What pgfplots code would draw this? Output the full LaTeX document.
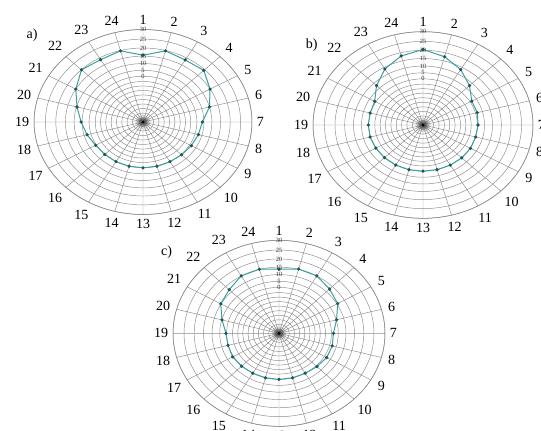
\documentclass[border=0pt]{standalone}
\usepackage{fontspec}
\setmainfont{Liberation Serif}
\usepackage{pgfplots}
\usepackage{pgfplotstable}
\pgfplotsset{compat=1.18}
\usepgfplotslibrary{polar}

\definecolor{lineteal}{RGB}{60,158,158}
\definecolor{markteal}{RGB}{30,85,85}
\definecolor{gridgray}{RGB}{140,140,140}

\pgfplotstableread{
ang val
90 15.6
75 19.8
60 18.6
45 19.4
30 14.9
15 10.0
0 3.9
345 2.5
330 1.4
315 0.5
300 0.0
285 0.0
270 0.0
255 0.0
240 0.0
225 0.0
210 0.6
195 2.9
180 5.6
165 9.7
150 15.0
135 19.9
120 18.8
105 19.8
90 15.6
}\dataA

\pgfplotstableread{
ang val
90 20.5
75 17.6
60 13.4
45 7.7
30 1.4
15 1.3
0 0.4
345 0.0
330 0.3
315 0.3
300 0.1
285 0.0
270 0.0
255 0.0
240 0.0
225 0.0
210 0.0
195 0.2
180 0.2
165 0.2
150 1.0
135 7.7
120 13.9
105 18.1
90 20.5
}\dataB

\pgfplotstableread{
ang val
90 13.7
75 15.2
60 15.1
45 12.7
30 10.5
15 5.2
0 1.5
345 2.0
330 2.0
315 0.9
300 0.0
285 0.0
270 0.0
255 0.0
240 0.0
225 0.4
210 0.9
195 0.3
180 0.4
165 4.8
150 10.2
135 12.1
120 15.1
105 15.1
90 13.7
}\dataC

\tikzset{rlab/.style={font=\fontsize{4.8}{5}\selectfont, inner sep=0pt, text=black!80}}

\pgfplotsset{
  rtrafo/.style={
    y coord trafo/.code={%
      \pgfmathparse{(30-##1)/5}%
      \pgfmathsetmacro\myri{\pgfmathresult}%
      \pgfmathparse{\myri<8.0001 ? 100*(1-0.1078*\myri+0.00394*\myri*\myri) : 39*(16-\myri)/8}%
    },
  },
  myrad/.style={
    rtrafo,
    scale only axis,
    anchor=center,
    xmin=0, xmax=360, ymin=-50, ymax=30,
    xtick={0,15,...,345},
    xticklabels={7,6,5,4,3,2,1,24,23,22,21,20,19,18,17,16,15,14,13,12,11,10,9,8},
    ytick={-50,-45,...,30},
    yticklabels={},
    grid=major,
    major grid style={draw=gridgray, line width=0.35pt},
    separate axis lines,
    x axis line style={draw=gridgray, line width=0.4pt},
    y axis line style={draw=none},
    major tick length=0pt,
    xticklabel style={font=\fontsize{10.5}{12}\selectfont, inner sep=3.5pt},
    clip=false,
  },
  dataline/.style={color=lineteal, line width=0.75pt, mark=*, mark size=0.8pt,
    mark options={fill=markteal, draw=markteal}},
}

\begin{document}
\begin{tikzpicture}
\useasboundingbox (0,0) rectangle (405.75pt,-322.5pt);
\clip (0,0) rectangle (405.75pt,-322.5pt);

% ---------- a)
\begin{polaraxis}[myrad, at={(107.25pt,-91.5pt)}, width=163.5pt, height=138.75pt, unit vector ratio=1.178 1]
\addplot[dataline] table[x=ang, y=val] {\dataA};
\node[rlab] at (axis cs:90,0) {0};
\node[rlab] at (axis cs:90,5) {5};
\node[rlab] at (axis cs:90,10) {10};
\node[rlab] at (axis cs:90,15) {15};
\node[rlab] at (axis cs:90,20) {20};
\node[rlab] at (axis cs:90,25) {25};
\node[rlab] at (axis cs:90,30) {30};
\fill[black, opacity=0.12] (axis cs:0,-50) circle[radius=5.5pt];
\fill[black, opacity=0.25] (axis cs:0,-50) circle[radius=3.2pt];
\fill[black] (axis cs:0,-50) circle[radius=1.3pt];
\end{polaraxis}

% ---------- b)
\begin{polaraxis}[myrad, at={(317.25pt,-93.75pt)}, width=165pt, height=140pt, unit vector ratio=1.1786 1]
\addplot[dataline] table[x=ang, y=val] {\dataB};
\node[rlab] at (axis cs:90,0) {0};
\node[rlab] at (axis cs:90,5) {5};
\node[rlab] at (axis cs:90,10) {10};
\node[rlab] at (axis cs:90,15) {15};
\node[rlab] at (axis cs:90,20) {20};
\node[rlab] at (axis cs:90,25) {25};
\node[rlab] at (axis cs:90,30) {30};
\fill[black, opacity=0.12] (axis cs:0,-50) circle[radius=5.5pt];
\fill[black, opacity=0.25] (axis cs:0,-50) circle[radius=3.2pt];
\fill[black] (axis cs:0,-50) circle[radius=1.3pt];
\end{polaraxis}

% ---------- c)
\begin{polaraxis}[myrad, at={(209.25pt,-250pt)}, width=159pt, height=139.5pt, unit vector ratio=1.1398 1]
\addplot[dataline] table[x=ang, y=val] {\dataC};
\node[rlab] at (axis cs:90,0) {0};
\node[rlab] at (axis cs:90,5) {5};
\node[rlab] at (axis cs:90,10) {10};
\node[rlab] at (axis cs:90,15) {15};
\node[rlab] at (axis cs:90,20) {20};
\node[rlab] at (axis cs:90,25) {25};
\node[rlab] at (axis cs:90,30) {30};
\fill[black, opacity=0.12] (axis cs:0,-50) circle[radius=5.5pt];
\fill[black, opacity=0.25] (axis cs:0,-50) circle[radius=3.2pt];
\fill[black] (axis cs:0,-50) circle[radius=1.3pt];
\end{polaraxis}

\node[font=\fontsize{10.5}{12}\selectfont] at (24pt,-26.25pt) {a)};
\node[font=\fontsize{10.5}{12}\selectfont] at (233.8pt,-33.75pt) {b)};
\node[font=\fontsize{10.5}{12}\selectfont] at (125pt,-189.2pt) {c)};
\end{tikzpicture}
\end{document}
